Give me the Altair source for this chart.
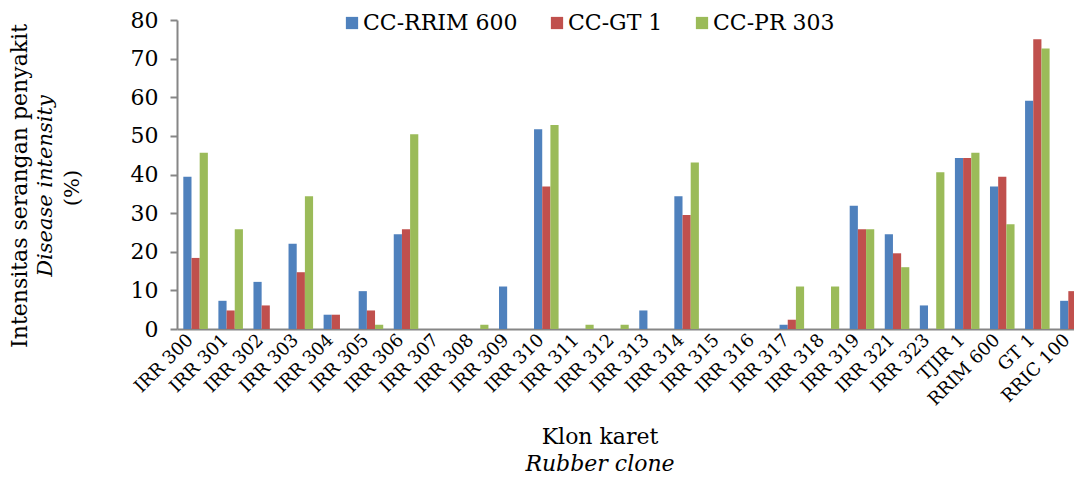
import altair as alt
import pandas as pd

clones = ["IRR 300", "IRR 301", "IRR 302", "IRR 303", "IRR 304", "IRR 305", "IRR 306",
          "IRR 307", "IRR 308", "IRR 309", "IRR 310", "IRR 311", "IRR 312", "IRR 313",
          "IRR 314", "IRR 315", "IRR 316", "IRR 317", "IRR 318", "IRR 319", "IRR 321",
          "IRR 323", "TJIR 1", "RRIM 600", "GT 1", "RRIC 100"]
series = ["CC-RRIM 600", "CC-GT 1", "CC-PR 303"]
cc_rrim600 = [39.4, 7.3, 12.2, 22.1, 3.7, 9.8, 24.5, 0, 0, 11.0, 51.7, 0, 0, 4.8,
              34.4, 0, 0, 1.1, 0, 31.9, 24.5, 6.1, 44.3, 36.9, 59.1, 7.3]
cc_gt1 = [18.4, 4.8, 6.1, 14.7, 3.7, 4.8, 25.8, 0, 0, 0, 36.9, 0, 0, 0,
          29.5, 0, 0, 2.4, 0, 25.8, 19.6, 0, 44.3, 39.4, 75.0, 9.8]
cc_pr303 = [45.6, 25.8, 0, 34.4, 0, 1.1, 50.4, 0, 1.1, 0, 52.8, 1.1, 1.1, 0,
            43.1, 0, 0, 11.0, 11.0, 25.8, 16.0, 40.6, 45.6, 27.1, 72.6, 1.1]
colors = ["#4F81BD", "#C0504D", "#9BBB59"]
y_ticks = [0, 10, 20, 30, 40, 50, 60, 70, 80]

rows = []
for s, vals in zip(series, [cc_rrim600, cc_gt1, cc_pr303]):
    for c, v in zip(clones, vals):
        rows.append({"clone": c, "series": s, "value": v})
df = pd.DataFrame(rows)

FONT = "DejaVu Serif"
GRAY = "#868686"

bars = alt.Chart(df).mark_bar(strokeWidth=0).encode(
    x=alt.X("clone:N", sort=clones,
            scale=alt.Scale(paddingInner=0.3, paddingOuter=0.18),
            axis=alt.Axis(title=None, labelAngle=-45, labelAlign="right", labelBaseline="middle",
                          labelFont=FONT, labelFontSize=18, labelColor="black",
                          labelOffset=-5, ticks=False, domainColor=GRAY, domainWidth=2,
                          labelPadding=8)),
    xOffset=alt.XOffset("series:N", sort=series),
    y=alt.Y("value:Q", scale=alt.Scale(domain=[0, 80], nice=False),
            axis=alt.Axis(title=None, values=y_ticks, grid=False, labelFont=FONT,
                          labelFontSize=22, labelColor="black", tickSize=7, tickColor=GRAY,
                          tickWidth=2, domainColor=GRAY, domainWidth=2, labelPadding=12)),
    color=alt.Color("series:N", sort=series,
                    scale=alt.Scale(domain=series, range=colors),
                    legend=alt.Legend(title=None, orient="none", direction="horizontal",
                                      legendX=164, legendY=-8, symbolType="square",
                                      symbolSize=150, symbolStrokeWidth=0,
                                      labelFont=FONT, labelFontSize=22, labelColor="black",
                                      labelOffset=0, columnPadding=28, padding=0)),
)

one = pd.DataFrame({"a": [0]})

def label(txt, x, y, size=22, style="normal", angle=0):
    return alt.Chart(one).mark_text(text=txt, font=FONT, fontSize=size, fontStyle=style,
                                    color="black", angle=angle, align="center",
                                    baseline="middle").encode(x=alt.value(x), y=alt.value(y))

chart = alt.layer(
    bars,
    label("Klon karet", 423, 417),
    label("Rubber clone", 423, 444, style="italic"),
    label("Intensitas serangan penyakit", -157, 166, size=22, angle=270),
    label("Disease intensity", -131, 166, size=21, style="italic", angle=270),
    label("(%)", -104, 168, size=21, angle=270),
).properties(
    width=914, height=309,
    padding={"left": 169, "top": 12, "right": -17, "bottom": 148},
    autosize=alt.AutoSizeParams(type="none"),
).configure_view(stroke=None)

chart.save("out.html", embed_options={"renderer": "svg", "actions": False})
